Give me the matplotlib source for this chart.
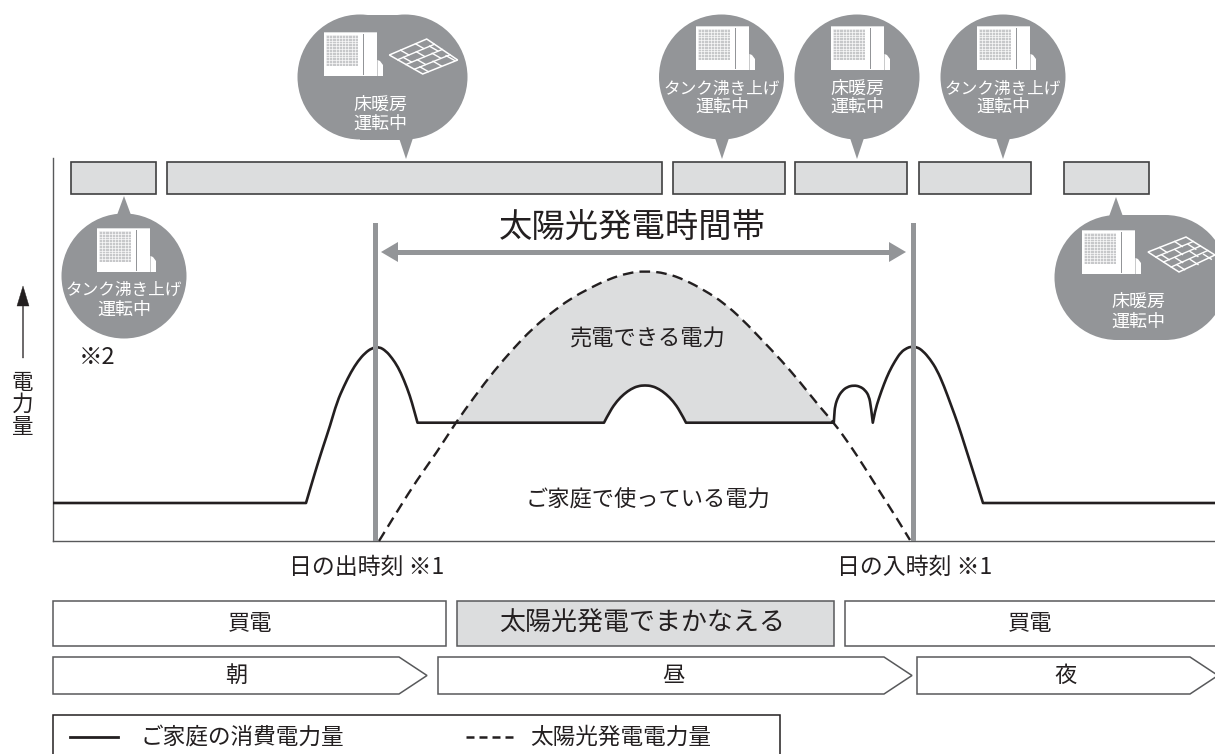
"""
Solar generation / household consumption schematic, drawn in pixel coordinates.
"""
import numpy as np, matplotlib
matplotlib.use('Agg')
import matplotlib.pyplot as plt
from matplotlib.patches import Rectangle, Circle, Polygon, FancyArrow, PathPatch
from matplotlib.path import Path

plt.rcParams['font.family'] = ['Noto Sans CJK JP', 'DejaVu Sans']

GREY = '#939598'
LIGHT = '#DCDDDE'
DK = '#231F20'
FRAME = '#58595B'

# Household consumption curve (px)
use_x = [53, 306, 311, 317, 323, 330, 337, 344, 351, 358, 365, 372, 379, 386, 392, 398, 404, 410, 414, 417.5,
         455.7, 604, 610, 617, 624, 631, 638, 645, 652, 659, 666, 673, 680, 686, 833.8,
         834.3, 835, 838, 842, 847, 853.7, 860, 865, 869, 871, 872.8,
         875, 879, 884, 889, 895, 901, 907, 911, 917, 923, 930, 937, 944, 951, 958, 965, 972, 978, 983, 1215]
use_y = [503, 503, 486, 466, 447, 426, 402, 386, 372, 361, 353, 348, 346.7, 351, 358, 367, 380, 396, 410, 422.7,
         422.7, 422.7, 411, 401, 394, 389, 386, 385.3, 386, 389, 394, 401, 411, 422.7, 422.7,
         415, 406, 397, 391, 387, 385.3, 386.5, 390, 396, 407, 422.7,
         411, 398, 384, 372, 361, 352, 348, 346.7, 347, 351, 359, 370, 386, 405, 424, 446, 468, 487, 503, 503]
use_corners = [306, 417.5, 455.7, 604, 686, 833.8, 872.8, 983]

# Solar generation curve (px)
sun_x = [379, 398, 417, 437, 455.7, 475, 494, 513, 532, 551, 570, 590, 609, 628, 645, 666, 685, 704, 724, 743,
         762, 781, 800, 819, 833.8, 850, 865, 880, 896, 910]
sun_y = [541, 510, 480, 452, 422.7, 396, 371, 349, 329, 313, 299, 288, 279, 273, 271, 273, 280, 290, 303, 320,
         340, 360, 382, 406, 422.7, 445, 468, 492, 517, 540]

# Bubbles
round_cx = [124, 721.5, 857, 1003]
round_cy = [276, 77, 77, 77]
round_tip_y = [196, 159, 159, 159]
round_tip_x = [124, 722, 857, 1003]
wide_l = [360, 1117]
wide_r = [405, 1165]
wide_cy = [77, 277.5]
wide_tip = [(406, 159), (1116, 197)]

# Operating-mode boxes along the top
box_l = [70.5, 167, 673, 794.5, 919.4, 1064]
box_r = [155.5, 661.5, 784.5, 906.5, 1031, 1148.5]

unit_xy = [(97, 228), (324, 32), (696, 26), (831, 26), (977, 26), (1082, 230)]
floor_corners = [[(389.3, 55), (426.7, 39), (457.7, 60), (422.7, 74)],
                 [(1148, 252), (1186, 237), (1215, 255), (1179, 272)]]

bubble_labels = [(124, 290, 'タンク沸き上げ', 12), (124, 310, '運転中', 13),
                 (380, 104.5, '床暖房', 13), (380, 123.7, '運転中', 13),
                 (722, 89, 'タンク沸き上げ', 12), (722, 107, '運転中', 13),
                 (857, 89, '床暖房', 13), (857, 107, '運転中', 13),
                 (1003, 89, 'タンク沸き上げ', 12), (1003, 107, '運転中', 13),
                 (1138, 301.7, '床暖房', 13), (1138, 321.7, '運転中', 13)]

fig = plt.figure(figsize=(12.15, 7.54), dpi=100)
ax = fig.add_axes([0, 0, 1, 1])
ax.set_xlim(0, 1215)
ax.set_ylim(754, 0)
ax.axis('off')


def smooth_path(xs, ys, corners=()):
    # quadratic segments through the read points, sharp only at the corners
    pts = list(zip(xs, ys))
    verts, codes = [pts[0]], [Path.MOVETO]
    for i in range(1, len(pts) - 1):
        p, q = pts[i], pts[i + 1]
        if p[0] in corners:
            verts.append(p)
            codes.append(Path.LINETO)
        elif q[0] in corners or i == len(pts) - 2:
            verts += [p, q]
            codes += [Path.CURVE3, Path.CURVE3]
        else:
            verts += [p, ((p[0] + q[0]) / 2, (p[1] + q[1]) / 2)]
            codes += [Path.CURVE3, Path.CURVE3]
    verts.append(pts[-1])
    codes.append(Path.LINETO)
    return Path(verts, codes)


def draw_unit(x, y):
    ax.add_patch(Rectangle((x, y), 52.5, 44, fc='white', ec='none', zorder=4))
    ax.add_patch(Polygon([(x + 53.5, y + 28), (x + 56, y + 29), (x + 59, y + 33), (x + 59, y + 44), (x + 53.5, y + 44)],
                         fc='white', ec='none', zorder=4))
    ax.add_patch(Rectangle((x, y), 52.5, 1.2, fc=LIGHT, ec='none', zorder=5))
    ax.add_patch(Rectangle((x + 2, y + 3), 32, 31, fc='#C7C8CA', ec='none', zorder=5))
    for gx in np.arange(x + 2, x + 34.5, 3.2):
        ax.plot([gx, gx], [y + 3, y + 34], color='white', lw=0.45, zorder=6)
    for gy in np.arange(y + 3, y + 34.5, 2.8):
        ax.plot([x + 2, x + 34], [gy, gy], color='white', lw=0.45, zorder=6)
    ax.add_patch(Rectangle((x + 38.5, y + 2), 1.6, 41, fc=GREY, ec='none', zorder=5))


def draw_floor(c):
    L, T, R, B = [np.array(p) for p in c]
    ax.add_patch(Polygon(c, fc='none', ec='white', lw=1.1, zorder=5))
    for k in range(1, 4):
        a = L + (B - L) * k / 4
        b = T + (R - T) * k / 4
        ax.plot([a[0], b[0]], [a[1], b[1]], color='white', lw=1, zorder=5)
    for k in range(4):
        for m in ((0.3, 0.7) if k % 2 == 0 else (0.15, 0.5, 0.85)):
            a = L + (T - L) * m + (B - L) * k / 4
            b = L + (T - L) * m + (B - L) * (k + 1) / 4
            ax.plot([a[0], b[0]], [a[1], b[1]], color='white', lw=1, zorder=5)


# axes lines
ax.plot([53, 53], [158, 541], color=FRAME, lw=1, zorder=2)
ax.plot([53, 1215], [541, 541], color=FRAME, lw=1, zorder=2)
ax.add_patch(FancyArrow(23, 358, 0, -72, width=0.8, head_width=12, head_length=20,
                        length_includes_head=True, fc=DK, ec=DK, lw=0.3))
ax.text(22.5, 405, '電\n力\n量', ha='center', va='center', fontsize=15.5, linespacing=1.0, color=DK)

# sellable region
sun_x_a, sun_y_a = np.array(sun_x), np.array(sun_y)
use_x_a, use_y_a = np.array(use_x), np.array(use_y)
ms = (sun_x_a >= 455.7) & (sun_x_a <= 833.8)
mu = (use_x_a >= 455.7) & (use_x_a <= 833.8)
ax.fill(np.r_[sun_x_a[ms], use_x_a[mu][::-1]], np.r_[sun_y_a[ms], use_y_a[mu][::-1]], color=LIGHT, lw=0, zorder=1)

ax.add_patch(PathPatch(smooth_path(sun_x, sun_y), fc='none', ec=DK, lw=1.7, ls=(0, (4.5, 2.6)), zorder=3))
ax.add_patch(PathPatch(smooth_path(use_x, use_y, use_corners), fc='none', ec=DK, lw=1.9, joinstyle='round', zorder=3))

# sunrise / sunset bars and span arrow
for vx in [375.5, 913.5]:
    ax.add_patch(Rectangle((vx - 2.6, 223), 5.2, 318, fc=GREY, ec='none', zorder=4))
ax.add_patch(Rectangle((395, 249.5), 496, 5, fc=GREY, ec='none', zorder=2))
ax.add_patch(Polygon([(381, 252), (398, 242), (398, 262)], fc=GREY, ec='none', zorder=2))
ax.add_patch(Polygon([(906, 252), (889, 242), (889, 262)], fc=GREY, ec='none', zorder=2))
ax.text(632, 227, '太陽光発電時間帯', ha='center', va='center', fontsize=24, color=DK)

# top boxes
for l, r in zip(box_l, box_r):
    ax.add_patch(Rectangle((l, 162), r - l, 32, fc=LIGHT, ec='#404041', lw=1.2, zorder=2))

# bubbles
for cx, cy, tx, ty in zip(round_cx, round_cy, round_tip_x, round_tip_y):
    ax.add_patch(Circle((cx, cy), 62.5, fc=GREY, ec='none', zorder=3))
    base = cy - 61 if ty < cy else cy + 61
    ax.add_patch(Polygon([(tx - 7, base), (tx + 7, base), (tx, ty)], fc=GREY, ec='none', zorder=3))
for l, r, cy, (tx, ty) in zip(wide_l, wide_r, wide_cy, wide_tip):
    for cx in (l, r):
        ax.add_patch(Circle((cx, cy), 62.5, fc=GREY, ec='none', zorder=3))
    ax.add_patch(Rectangle((l, cy - 62.5), r - l, 125, fc=GREY, ec='none', zorder=3))
    base = cy + 61 if ty > cy else cy - 61
    ax.add_patch(Polygon([(tx - 7, base), (tx + 7, base), (tx, ty)], fc=GREY, ec='none', zorder=3))
for xy in unit_xy:
    draw_unit(*xy)
for c in floor_corners:
    draw_floor(c)
for x, y, s, fs in bubble_labels:
    ax.text(x, y, s, ha='center', va='center', fontsize=fs, color='white', zorder=7)

# annotations
ax.text(648, 339, '売電できる電力', ha='center', va='center', fontsize=16, color=DK, zorder=5)
ax.text(648, 500, 'ご家庭で使っている電力', ha='center', va='center', fontsize=16, color=DK, zorder=5)
ax.text(97.5, 357, '※2', ha='center', va='center', fontsize=17, color=DK)
ax.text(367, 567, '日の出時刻 ※1', ha='center', va='center', fontsize=16.5, color=DK)
ax.text(915, 567, '日の入時刻 ※1', ha='center', va='center', fontsize=16.5, color=DK)

# bottom rows
ax.add_patch(Rectangle((53, 601), 393, 45, fc='white', ec=FRAME, lw=1.1))
ax.add_patch(Rectangle((456.5, 601), 377.5, 45, fc=LIGHT, ec=FRAME, lw=1.1))
ax.add_patch(Rectangle((845, 601), 380, 45, fc='white', ec=FRAME, lw=1.1))
ax.text(250, 623.5, '買電', ha='center', va='center', fontsize=16, color=DK)
ax.text(642, 623.5, '太陽光発電でまかなえる', ha='center', va='center', fontsize=18.7, color=DK)
ax.text(1030, 623.5, '買電', ha='center', va='center', fontsize=16, color=DK)

for l, r, s, tx in [(53, 399, '朝', 236), (438, 884, '昼', 673), (917, 1190, '夜', 1066)]:
    ax.add_patch(Polygon([(l, 657), (r, 657), (r + 28, 675.5), (r, 694), (l, 694)], fc='white', ec=FRAME, lw=1.1))
    ax.text(tx, 675.5, s, ha='center', va='center', fontsize=16, color=DK)

# legend
ax.add_patch(Rectangle((53, 715), 727, 60, fc='white', ec=DK, lw=1.1))
ax.plot([70, 118], [737, 737], color=DK, lw=2)
ax.plot([466, 513], [737, 737], color=DK, lw=1.8, dashes=(3.2, 2))
ax.text(140, 737, 'ご家庭の消費電力量', ha='left', va='center', fontsize=16.3, color=DK)
ax.text(530, 737, '太陽光発電電力量', ha='left', va='center', fontsize=16.3, color=DK)

fig.savefig('out.png', dpi=100, facecolor='white')
plt.close()
